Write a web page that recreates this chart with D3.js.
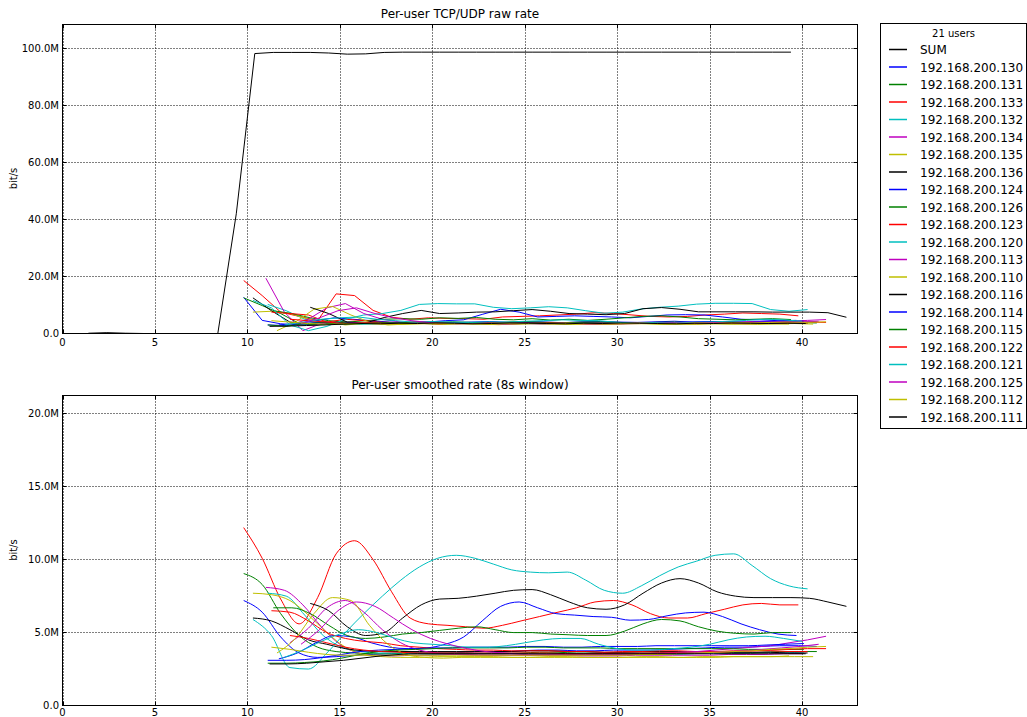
<!DOCTYPE html>
<html>
<head>
<meta charset="utf-8">
<script src="https://cdn.jsdelivr.net/npm/d3@7"></script>
<style>
body { margin: 0; background: #fff; }
svg { font-family: "DejaVu Sans", sans-serif; }
</style>
</head>
<body>
<svg id="chart" width="1027" height="717"></svg>
<script>
var USERS = ["192.168.200.130", "192.168.200.131", "192.168.200.133", "192.168.200.132",
    "192.168.200.134", "192.168.200.135", "192.168.200.136", "192.168.200.124",
    "192.168.200.126", "192.168.200.123", "192.168.200.120", "192.168.200.113",
    "192.168.200.110", "192.168.200.116", "192.168.200.114", "192.168.200.115",
    "192.168.200.122", "192.168.200.121", "192.168.200.125", "192.168.200.112",
    "192.168.200.111"];

var COLOR_CYCLE = ["#0000ff", "#008000", "#ff0000", "#00bfbf", "#bf00bf", "#bfbf00", "#000000"];
var SUM_COLOR = "#000000";

var X_TICKS = [0, 5, 10, 15, 20, 25, 30, 35, 40];
var RAW_TICKS = [0, 20, 40, 60, 80, 100];       // Mbit/s
var SMOOTH_TICKS = [0, 5, 10, 15, 20];          // Mbit/s

/* SUM line, one sample per second from SUM_START, Mbit/s */
var SUM_START = 1.4;
var SUM_RATE = [0.1, 0.3, 0.1, 0, 0, 0, 0, 0, 42, 98.2,
    98.6, 98.6, 98.6, 98.4, 98.0, 98.1, 98.6, 98.7, 98.7, 98.7,
    98.7, 98.7, 98.7, 98.7, 98.7, 98.7, 98.7, 98.7, 98.7, 98.7,
    98.7, 98.7, 98.7, 98.7, 98.7, 98.7, 98.7, 98.7, 98.7];

/* first sample time (s) of each user, one sample per second after that */
var USER_START = [9.8, 9.8, 9.8, 11.1, 11.0, 10.3, 10.3, 11.7, 11.4, 11.3, 10.3,
    12.3, 11.6, 13.4, 11.1, 11.1, 12.3, 12.0, 12.9, 11.3, 11.2];

/* raw rate per user, Mbit/s */
var RAW_RATE = [
    [12.7, 4.6, 3.4, 3.0, 3.2, 3.5, 3.9, 3.6, 3.4, 3.5, 3.7, 3.6, 3.8, 3.5, 3.6, 3.9, 4.0, 3.7, 3.6, 3.8, 3.9, 3.7, 3.6, 3.8, 4.0, 4.1, 3.9, 3.8, 4.0, 4.2, 4.1, 4.0],
    [12.5, 9.8, 7.0, 3.5, 3.0, 4.0, 3.6, 3.4, 3.5, 3.8, 3.6, 3.5, 3.7, 3.6, 3.4, 3.5, 3.7, 3.8, 3.6, 3.5, 3.6, 3.7, 3.5, 3.6, 3.8, 3.7, 3.6, 3.5, 3.7, 3.6, 3.8, 3.7],
    [18.6, 13.3, 7.5, 6.0, 4.5, 13.9, 13.3, 8.1, 5.7, 5.0, 5.5, 5.3, 5.2, 5.0, 5.8, 6.0, 6.2, 6.5, 6.8, 7.3, 7.0, 6.5, 6.0, 5.8, 6.0, 6.5, 6.8, 7.2, 7.0, 6.8, 6.2],
    [10.2, 8.0, 5.0, 4.0, 3.5, 3.2, 3.5, 3.8, 3.6, 3.4, 3.5, 3.6, 3.8, 3.7, 3.5, 3.4, 3.6, 3.5, 3.7, 3.8, 3.6, 3.5, 3.4, 3.6, 3.7, 3.5, 3.6, 3.8, 3.7, 3.6],
    [19.4, 7.5, 1.0, 3.5, 4.2, 3.8, 3.5, 3.3, 3.6, 3.4, 3.5, 3.7, 3.4, 3.3, 3.5, 3.6, 3.4, 3.5, 3.3, 3.4, 3.6, 3.5, 3.4, 3.3, 3.5, 3.6, 3.4, 3.5, 3.7, 3.6],
    [7.5, 7.8, 7.0, 5.0, 4.0, 3.0, 3.5, 3.4, 3.2, 3.5, 3.3, 3.4, 3.6, 3.3, 3.2, 3.4, 3.5, 3.3, 3.4, 3.2, 3.3, 3.5, 3.4, 3.3, 3.2, 3.4, 3.3, 3.5, 3.4, 3.3],
    [12.5, 8.0, 4.0, 3.5, 4.0, 3.5, 3.8, 3.6, 3.9, 3.7, 3.5, 3.6, 3.8, 3.7, 3.6, 3.9, 3.8, 3.6, 3.7, 3.5, 3.6, 3.8, 3.9, 3.7, 3.6, 3.5, 3.7, 3.8, 3.6, 3.7, 3.5],
    [3.0, 3.5, 4.5, 5.5, 5.0, 4.5, 4.0, 3.8, 4.0, 4.5, 4.8, 6.7, 8.5, 7.5, 5.8, 6.0, 6.2, 6.0, 5.8, 5.5, 6.0, 6.5, 6.6, 6.5, 5.8, 5.0, 4.8, 4.5, 4.6],
    [8.0, 7.0, 5.5, 4.5, 4.0, 4.5, 5.0, 5.2, 5.0, 5.5, 5.3, 5.6, 5.0, 4.8, 5.2, 4.7, 5.0, 4.6, 5.0, 5.5, 6.0, 6.2, 5.8, 5.2, 5.0, 4.8, 5.0, 5.2, 4.9],
    [7.5, 7.0, 6.5, 4.0, 5.0, 4.5, 4.0, 3.8, 4.2, 3.9, 3.7, 3.8, 4.0, 3.6, 3.7, 3.9, 3.8, 3.6, 3.7, 3.5, 3.8, 3.9, 3.7, 3.6, 3.8, 3.7, 3.9, 3.8, 3.6, 3.7],
    [11.6, 9.0, 3.0, 1.0, 2.5, 5.0, 6.5, 7.0, 8.1, 10.2, 10.5, 10.4, 10.4, 9.2, 8.7, 9.0, 9.4, 9.0, 8.0, 7.1, 7.5, 8.6, 9.2, 9.6, 10.3, 10.6, 10.6, 10.5, 8.4, 7.8, 8.4],
    [3.0, 5.0, 9.0, 10.5, 7.0, 5.0, 4.0, 3.5, 3.6, 3.4, 3.5, 3.3, 3.6, 3.5, 3.4, 3.7, 3.5, 3.6, 3.4, 3.5, 3.8, 3.6, 3.7, 3.9, 4.0, 4.2, 4.1, 4.3, 4.6, 4.9],
    [1.0, 4.0, 8.5, 9.5, 6.5, 4.0, 3.0, 3.3, 3.5, 3.2, 3.4, 3.3, 3.1, 3.4, 3.5, 3.3, 3.2, 3.4, 3.3, 3.5, 3.4, 3.2, 3.3, 3.5, 3.4, 3.3, 3.2, 3.4, 3.5, 3.3],
    [9.2, 7.0, 4.0, 3.7, 5.6, 7.0, 8.1, 7.0, 7.2, 7.5, 7.6, 8.0, 8.4, 7.8, 7.0, 6.8, 6.6, 7.0, 8.7, 9.1, 8.5, 7.6, 7.6, 7.6, 7.6, 7.5, 7.5, 7.5, 7.3, 5.7],
    [3.0, 2.8, 3.5, 4.0, 3.5, 3.8, 4.0, 3.7, 3.9, 4.1, 3.8, 4.0, 4.2, 3.9, 4.1, 4.0, 3.8, 4.1, 4.2, 4.0, 3.9, 4.1, 4.3, 4.0, 4.2, 4.1, 3.9, 4.2, 4.4, 4.3],
    [3.0, 2.5, 3.5, 3.8, 3.2, 3.6, 3.9, 3.7, 4.0, 3.8, 4.1, 3.9, 3.7, 4.0, 4.2, 3.9, 3.8, 4.0, 4.1, 3.9, 3.7, 3.9, 4.0, 3.8, 3.9, 4.0, 3.8, 3.7, 3.9, 3.8],
    [5.0, 4.5, 4.0, 3.5, 3.8, 3.6, 3.5, 3.7, 3.4, 3.6, 3.5, 3.8, 3.6, 3.5, 3.7, 3.6, 3.4, 3.5, 3.7, 3.8, 3.6, 3.5, 3.7, 3.6, 3.8, 3.9, 3.7, 3.8, 4.0, 3.9],
    [3.0, 4.0, 5.0, 5.5, 5.8, 5.0, 4.5, 4.0, 4.2, 4.0, 3.9, 4.1, 4.0, 4.3, 4.5, 4.8, 4.6, 4.5, 3.9, 3.7, 3.8, 3.7, 3.9, 4.0, 4.3, 4.6, 5.0, 4.8, 4.3],
    [3.5, 5.5, 8.0, 9.0, 7.0, 5.5, 4.5, 3.8, 3.5, 3.4, 3.6, 3.3, 3.5, 3.4, 3.6, 3.5, 3.3, 3.4, 3.6, 3.5, 3.7, 3.6, 3.8, 3.9, 3.7, 4.0, 4.1, 3.9, 4.3],
    [4.5, 4.0, 3.5, 3.2, 3.4, 3.6, 3.3, 3.5, 3.4, 3.6, 3.5, 3.3, 3.4, 3.6, 3.5, 3.4, 3.6, 3.5, 3.3, 3.5, 3.6, 3.4, 3.5, 3.7, 3.6, 3.8, 3.7, 3.9, 4.0, 3.9, 4.1],
    [2.5, 2.6, 2.8, 3.0, 3.3, 3.5, 3.4, 3.6, 3.5, 3.7, 3.6, 3.4, 3.5, 3.7, 3.6, 3.5, 3.4, 3.6, 3.5, 3.7, 3.6, 3.5, 3.4, 3.6, 3.5, 3.7, 3.6, 3.5, 3.6, 3.5]
];

/* smoothed rate (8s window) per user, Mbit/s */
var SMOOTH_RATE = [
    [7.2, 6.4, 4.7, 3.6, 3.3, 3.35, 3.45, 3.5, 3.55, 3.6, 3.6, 3.6, 3.65, 3.7, 3.7, 3.75, 3.8, 3.8, 3.75, 3.75, 3.8, 3.8, 3.8, 3.85, 3.9, 3.95, 4.0, 4.0, 4.05, 4.1, 4.1, 4.05],
    [9.05, 8.3, 6.3, 4.8, 4.0, 3.7, 3.6, 3.55, 3.55, 3.6, 3.6, 3.6, 3.6, 3.55, 3.55, 3.6, 3.65, 3.65, 3.6, 3.6, 3.6, 3.6, 3.6, 3.65, 3.65, 3.65, 3.6, 3.6, 3.65, 3.7, 3.7, 3.7],
    [12.2, 10.1, 7.3, 5.6, 7.4, 10.4, 11.3, 10.0, 7.8, 6.0, 5.6, 5.5, 5.4, 5.3, 5.5, 5.8, 6.1, 6.4, 6.7, 7.1, 7.2, 6.9, 6.3, 6.0, 6.0, 6.3, 6.6, 6.9, 7.0, 6.9, 6.9],
    [7.7, 7.5, 6.2, 4.8, 4.0, 3.7, 3.6, 3.6, 3.55, 3.5, 3.5, 3.55, 3.6, 3.6, 3.55, 3.5, 3.5, 3.55, 3.6, 3.6, 3.6, 3.55, 3.5, 3.55, 3.6, 3.6, 3.6, 3.65, 3.65, 3.6],
    [8.1, 7.9, 6.9, 5.4, 4.2, 3.6, 3.4, 3.4, 3.45, 3.45, 3.5, 3.5, 3.45, 3.45, 3.45, 3.45, 3.45, 3.4, 3.4, 3.4, 3.45, 3.45, 3.45, 3.45, 3.45, 3.5, 3.5, 3.5, 3.55, 3.55],
    [7.7, 7.6, 7.2, 6.2, 5.0, 4.0, 3.5, 3.35, 3.3, 3.3, 3.35, 3.35, 3.35, 3.35, 3.3, 3.3, 3.35, 3.35, 3.3, 3.3, 3.3, 3.35, 3.35, 3.3, 3.3, 3.3, 3.35, 3.35, 3.35, 3.4],
    [6.0, 5.8, 5.2, 4.5, 4.2, 3.9, 3.75, 3.7, 3.7, 3.7, 3.7, 3.7, 3.7, 3.7, 3.7, 3.75, 3.75, 3.7, 3.7, 3.65, 3.65, 3.7, 3.7, 3.7, 3.65, 3.65, 3.65, 3.65, 3.65, 3.6, 3.6],
    [3.2, 3.6, 4.3, 4.8, 4.7, 4.3, 4.0, 3.9, 3.95, 4.2, 4.7, 5.8, 6.8, 7.1, 6.7, 6.3, 6.2, 6.1, 6.05, 5.85, 5.9, 6.15, 6.35, 6.4, 6.1, 5.6, 5.2, 4.9, 4.8],
    [6.7, 6.7, 6.3, 5.5, 4.8, 4.6, 4.7, 4.9, 5.0, 5.15, 5.3, 5.4, 5.2, 5.0, 5.0, 4.9, 4.85, 4.8, 4.8, 5.1, 5.6, 5.9, 5.8, 5.4, 5.1, 4.95, 4.9, 5.0, 5.0],
    [6.5, 6.4, 5.8, 5.0, 4.6, 4.4, 4.3, 4.1, 4.0, 3.9, 3.85, 3.8, 3.8, 3.75, 3.75, 3.75, 3.7, 3.7, 3.65, 3.7, 3.7, 3.75, 3.75, 3.7, 3.7, 3.75, 3.75, 3.75, 3.7, 3.7],
    [5.9, 4.8, 2.6, 2.5, 3.6, 5.0, 6.3, 7.5, 8.6, 9.5, 10.1, 10.3, 10.1, 9.7, 9.3, 9.15, 9.1, 9.15, 8.6, 7.9, 7.7, 8.2, 8.9, 9.5, 9.9, 10.3, 10.4, 9.6, 8.7, 8.2, 8.0],
    [4.3, 5.3, 6.7, 7.2, 6.4, 5.2, 4.3, 3.8, 3.6, 3.5, 3.45, 3.45, 3.45, 3.45, 3.5, 3.5, 3.5, 3.5, 3.5, 3.55, 3.6, 3.65, 3.7, 3.8, 3.9, 4.0, 4.1, 4.3, 4.5, 4.75],
    [3.6, 4.6, 6.3, 7.4, 7.2, 5.5, 4.2, 3.5, 3.3, 3.25, 3.3, 3.3, 3.3, 3.3, 3.3, 3.3, 3.3, 3.3, 3.3, 3.3, 3.3, 3.3, 3.3, 3.35, 3.35, 3.35, 3.35, 3.35, 3.35, 3.35],
    [7.0, 6.5, 5.4, 4.8, 5.0, 6.0, 6.9, 7.3, 7.35, 7.5, 7.7, 7.9, 7.95, 7.6, 7.1, 6.7, 6.6, 6.9, 7.7, 8.4, 8.7, 8.4, 7.8, 7.5, 7.4, 7.4, 7.4, 7.35, 7.1, 6.8],
    [3.1, 3.1, 3.15, 3.3, 3.5, 3.7, 3.8, 3.85, 3.9, 3.95, 3.95, 4.0, 4.0, 4.0, 4.05, 4.05, 4.0, 4.0, 4.05, 4.05, 4.05, 4.1, 4.1, 4.1, 4.1, 4.1, 4.1, 4.15, 4.2, 4.25],
    [2.9, 2.9, 2.95, 3.05, 3.25, 3.5, 3.7, 3.8, 3.85, 3.9, 3.95, 3.95, 3.95, 3.95, 4.0, 4.0, 3.95, 3.95, 3.95, 3.9, 3.9, 3.9, 3.9, 3.9, 3.9, 3.9, 3.85, 3.85, 3.85, 3.85],
    [4.8, 4.6, 4.3, 4.0, 3.8, 3.7, 3.65, 3.6, 3.6, 3.6, 3.6, 3.6, 3.6, 3.6, 3.6, 3.55, 3.55, 3.55, 3.6, 3.6, 3.6, 3.6, 3.6, 3.65, 3.7, 3.75, 3.8, 3.85, 3.9, 3.9],
    [3.3, 3.8, 4.4, 4.9, 5.2, 5.0, 4.6, 4.3, 4.2, 4.1, 4.0, 4.0, 4.1, 4.3, 4.5, 4.6, 4.6, 4.2, 3.9, 3.8, 3.8, 3.9, 4.0, 4.2, 4.5, 4.7, 4.75, 4.6, 4.4],
    [4.2, 5.2, 6.5, 7.1, 6.8, 6.0, 5.2, 4.6, 4.2, 3.9, 3.7, 3.6, 3.5, 3.45, 3.45, 3.45, 3.45, 3.45, 3.5, 3.5, 3.55, 3.6, 3.65, 3.7, 3.75, 3.85, 3.95, 4.05, 4.2],
    [4.0, 3.85, 3.65, 3.5, 3.45, 3.45, 3.45, 3.45, 3.45, 3.45, 3.45, 3.45, 3.45, 3.45, 3.45, 3.45, 3.45, 3.45, 3.45, 3.45, 3.5, 3.5, 3.55, 3.6, 3.65, 3.7, 3.75, 3.85, 3.9, 4.0, 4.05],
    [2.85, 2.85, 2.9, 3.0, 3.1, 3.25, 3.4, 3.5, 3.55, 3.55, 3.55, 3.55, 3.55, 3.55, 3.55, 3.55, 3.55, 3.55, 3.55, 3.55, 3.55, 3.55, 3.55, 3.55, 3.55, 3.55, 3.55, 3.55, 3.55, 3.55]
];

var svg = d3.select("#chart");
var X_MAX = 43;

function user_color(i) {
    return COLOR_CYCLE[i % COLOR_CYCLE.length];
}

function to_points(start, values) {
    return values.map(function(v, i) { return [start + i, v]; });
}

function fmt_rate(v) {
    return v === 0 ? "0.0" : v.toFixed(1) + "M";
}

function draw_panel(cfg) {
    var x = d3.scaleLinear().domain([0, X_MAX]).range([62.5, 857.5]);
    var y = d3.scaleLinear().domain([0, cfg.ymax]).range([cfg.bottom + 0.5, cfg.top + 0.5]);
    var g = svg.append("g");

    g.append("clipPath").attr("id", cfg.id + "_clip")
        .append("rect")
        .attr("x", x(0)).attr("y", y(cfg.ymax))
        .attr("width", x(X_MAX) - x(0)).attr("height", y(0) - y(cfg.ymax));

    // dotted grid
    g.selectAll(".vgrid").data(X_TICKS).enter().append("line")
        .attr("x1", function(d) { return Math.round(x(d)) + 0.5; })
        .attr("x2", function(d) { return Math.round(x(d)) + 0.5; })
        .attr("y1", y(0)).attr("y2", y(cfg.ymax))
        .attr("stroke", "#000").attr("stroke-width", 1).attr("stroke-dasharray", "1,2");
    g.selectAll(".hgrid").data(cfg.yticks).enter().append("line")
        .attr("y1", function(d) { return Math.round(y(d) - 0.5) + 0.5; })
        .attr("y2", function(d) { return Math.round(y(d) - 0.5) + 0.5; })
        .attr("x1", x(0)).attr("x2", x(X_MAX))
        .attr("stroke", "#000").attr("stroke-width", 1).attr("stroke-dasharray", "1,2");

    var line = d3.line()
        .x(function(d) { return x(d[0]); })
        .y(function(d) { return y(d[1]); })
        .curve(cfg.curve);

    var lines = g.append("g").attr("clip-path", "url(#" + cfg.id + "_clip)");
    lines.selectAll("path").data(cfg.series).enter().append("path")
        .attr("d", function(d) { return line(d.pts); })
        .attr("fill", "none")
        .attr("stroke", function(d) { return d.color; })
        .attr("stroke-width", 1);

    // frame
    g.append("rect")
        .attr("x", x(0)).attr("y", y(cfg.ymax))
        .attr("width", x(X_MAX) - x(0)).attr("height", y(0) - y(cfg.ymax))
        .attr("fill", "none").attr("stroke", "#000").attr("stroke-width", 1);

    // inward ticks on all sides
    var tk = 4;
    X_TICKS.forEach(function(t) {
        var px = Math.round(x(t)) + 0.5;
        g.append("line").attr("x1", px).attr("x2", px).attr("y1", y(0)).attr("y2", y(0) - tk).attr("stroke", "#000");
        g.append("line").attr("x1", px).attr("x2", px).attr("y1", y(cfg.ymax)).attr("y2", y(cfg.ymax) + tk).attr("stroke", "#000");
    });
    cfg.yticks.forEach(function(t) {
        var py = Math.round(y(t) - 0.5) + 0.5;
        g.append("line").attr("x1", x(0)).attr("x2", x(0) + tk).attr("y1", py).attr("y2", py).attr("stroke", "#000");
        g.append("line").attr("x1", x(X_MAX)).attr("x2", x(X_MAX) - tk).attr("y1", py).attr("y2", py).attr("stroke", "#000");
    });

    g.selectAll(".xlab").data(X_TICKS).enter().append("text")
        .attr("x", function(d) { return x(d); })
        .attr("y", y(0) + cfg.xlabel_dy)
        .attr("text-anchor", "middle")
        .attr("font-size", 10)
        .text(function(d) { return d; });

    g.selectAll(".ylab").data(cfg.yticks).enter().append("text")
        .attr("x", 59)
        .attr("y", function(d) { return y(d) + 3.5; })
        .attr("text-anchor", "end")
        .attr("font-size", 10)
        .text(fmt_rate);

    g.append("text")
        .attr("x", (x(0) + x(X_MAX)) / 2)
        .attr("y", cfg.top - 6)
        .attr("text-anchor", "middle")
        .attr("font-size", 12)
        .text(cfg.title);

    g.append("text")
        .attr("transform", "translate(17," + ((cfg.top + cfg.bottom) / 2) + ") rotate(-90)")
        .attr("text-anchor", "middle")
        .attr("font-size", 10)
        .text("bit/s");
}

var raw_series = [{color: SUM_COLOR, pts: to_points(SUM_START, SUM_RATE)}];
USERS.forEach(function(u, i) {
    raw_series.push({color: user_color(i), pts: to_points(USER_START[i], RAW_RATE[i])});
});

var smooth_series = USERS.map(function(u, i) {
    return {color: user_color(i), pts: to_points(USER_START[i], SMOOTH_RATE[i])};
});

draw_panel({id: "raw", top: 24, bottom: 333, ymax: 108.4, yticks: RAW_TICKS, xlabel_dy: 12,
    title: "Per-user TCP/UDP raw rate", series: raw_series, curve: d3.curveLinear});
draw_panel({id: "smooth", top: 395, bottom: 705, ymax: 21.26, yticks: SMOOTH_TICKS, xlabel_dy: 10,
    title: "Per-user smoothed rate (8s window)", series: smooth_series, curve: d3.curveMonotoneX});

// legend
var legend = svg.append("g");
var entries = [{name: "SUM", color: SUM_COLOR}].concat(USERS.map(function(u, i) {
    return {name: u, color: user_color(i)};
}));
legend.append("rect")
    .attr("x", 880.5).attr("y", 23.5).attr("width", 146).attr("height", 405)
    .attr("fill", "#fff").attr("stroke", "#000").attr("stroke-width", 1);
legend.append("text")
    .attr("x", 953.5).attr("y", 37)
    .attr("text-anchor", "middle").attr("font-size", 10)
    .text(USERS.length + " users");
var ly = d3.scaleLinear().domain([0, entries.length - 1]).range([49.5, 417]);
var items = legend.selectAll(".item").data(entries).enter().append("g");
items.append("line")
    .attr("x1", 889).attr("x2", 907)
    .attr("y1", function(d, i) { return ly(i); })
    .attr("y2", function(d, i) { return ly(i); })
    .attr("stroke", function(d) { return d.color; })
    .attr("stroke-width", 1.5);
items.append("text")
    .attr("x", 920)
    .attr("y", function(d, i) { return ly(i) + 4.5; })
    .attr("font-size", 12)
    .text(function(d) { return d.name; });
</script>
</body>
</html>
